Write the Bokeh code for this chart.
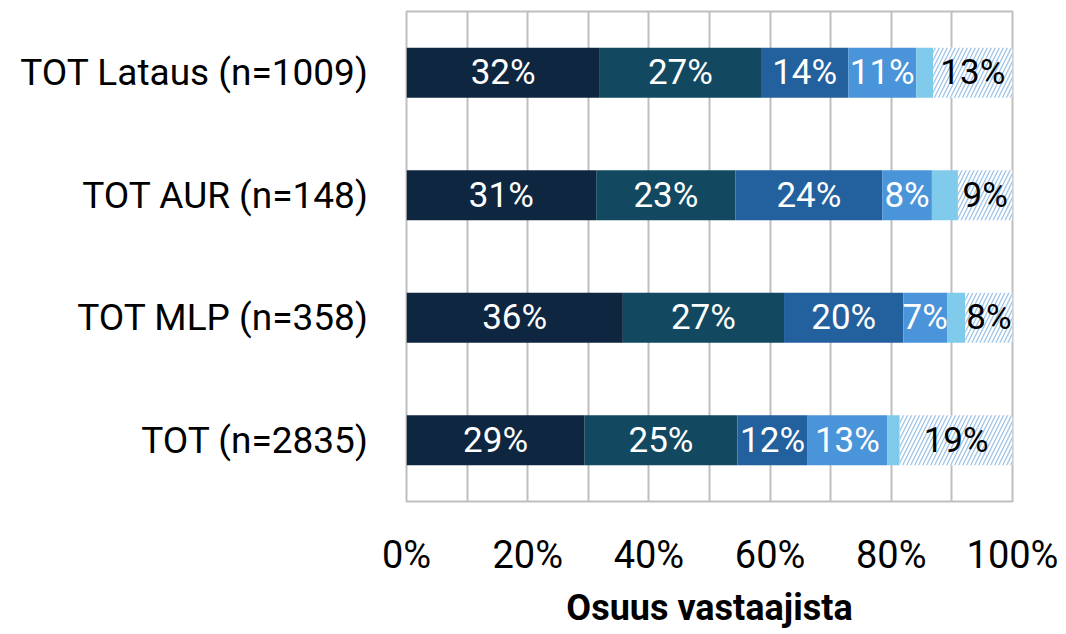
from bokeh.plotting import figure
from bokeh.models import ColumnDataSource, FactorRange, Range1d, FixedTicker, PrintfTickFormatter
from bokeh.core.properties import value
from bokeh.embed import file_html
from bokeh.resources import INLINE

# ---- data ----
categories = ["TOT Lataus (n=1009)", "TOT AUR (n=148)", "TOT MLP (n=358)", "TOT (n=2835)"]
seg1 = [31.9, 31.3, 35.7, 29.4]
seg2 = [26.6, 23.0, 26.6, 25.2]
seg3 = [14.4, 24.2, 19.7, 11.6]
seg4 = [11.2, 8.2, 7.2, 13.1]
seg5 = [2.8, 4.3, 3.0, 2.1]
seg6 = [13.1, 9.0, 7.8, 18.6]
x_ticks = [0, 20, 40, 60, 80, 100]
grid_ticks = [0, 10, 20, 30, 40, 50, 60, 70, 80, 90, 100]
axis_title = "Osuus vastaajista"

FONT = "Roboto"
colors = ["#0F2640", "#124960", "#22609E", "#4A94DA", "#80CBEB", "#FFFFFF"]
text_colors = ["white", "white", "white", "white", "white", "black"]
segments = [seg1, seg2, seg3, seg4, seg5, seg6]

p = figure(width=1064, height=633, y_range=FactorRange(*categories[::-1]),
           x_range=Range1d(0, 100), output_backend="svg", toolbar_location=None,
           min_border_left=406, min_border_right=52, min_border_top=11, min_border_bottom=132)
p.background_fill_color = "white"
p.border_fill_color = "white"
p.outline_line_color = "#BFBFBF"
p.outline_line_width = 2

p.xgrid.ticker = FixedTicker(ticks=grid_ticks)
p.xgrid.grid_line_color = "#BFBFBF"
p.xgrid.grid_line_width = 2
p.ygrid.grid_line_color = None

left = [0.0] * len(categories)
for i, seg in enumerate(segments):
    right = [l + v for l, v in zip(left, seg)]
    src = ColumnDataSource(dict(
        cat=categories, left=left, right=right,
        mid=[(l + r) / 2 for l, r in zip(left, right)],
        label=[f"{round(v)}%" if v >= 5 else "" for v in seg],
    ))
    if i == 5:
        p.hbar(y="cat", left="left", right="right", height=0.41, source=src,
               fill_color="white", line_color=None, hatch_pattern="/",
               hatch_color="#9DC3E6", hatch_scale=8, hatch_weight=1.3)
    else:
        p.hbar(y="cat", left="left", right="right", height=0.41, source=src,
               fill_color=colors[i], line_color=None)
    p.text(x="mid", y="cat", text="label", source=src, text_align="center",
           text_baseline="middle", text_font=value(FONT), text_font_size="35px",
           text_color=text_colors[i])
    left = right

p.xaxis.ticker = FixedTicker(ticks=x_ticks)
p.xaxis.formatter = PrintfTickFormatter(format="%d%%")
p.xaxis.axis_line_color = None
p.xaxis.major_tick_line_color = None
p.xaxis.minor_tick_line_color = None
p.xaxis.major_label_standoff = 25
p.xaxis.major_label_text_font = FONT
p.xaxis.major_label_text_font_size = "38px"
p.xaxis.major_label_text_color = "black"
p.xaxis.axis_label = axis_title
p.xaxis.axis_label_text_font = FONT
p.xaxis.axis_label_text_font_style = "bold"
p.xaxis.axis_label_text_font_size = "36px"
p.xaxis.axis_label_text_color = "black"
p.xaxis.axis_label_standoff = 7

p.yaxis.axis_line_color = None
p.yaxis.major_tick_line_color = None
p.yaxis.minor_tick_line_color = None
p.yaxis.major_label_standoff = 32
p.yaxis.major_label_text_font = FONT
p.yaxis.major_label_text_font_size = "37px"
p.yaxis.major_label_text_color = "black"

open("out.html", "w").write(file_html(p, INLINE))
